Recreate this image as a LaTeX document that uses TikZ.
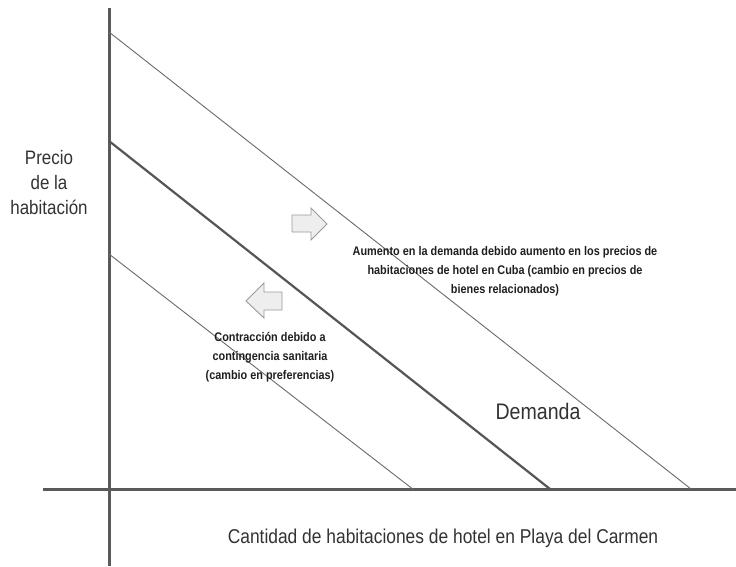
\documentclass[tikz,border=0pt]{standalone}
\usepackage{fontspec}
\newfontfamily\narrowsans[FakeStretch=0.87]{Liberation Sans}
\definecolor{axisgray}{HTML}{5A5A5A}
\definecolor{linegray}{HTML}{555555}
\definecolor{thingray}{HTML}{6A6A6A}
\definecolor{arrowedge}{HTML}{9A9A9A}
\definecolor{arrowfill}{HTML}{EEEEEE}
\definecolor{labeltext}{HTML}{333333}
\begin{document}
\begin{tikzpicture}[x=1pt,y=-1pt,
  axisline/.style={draw=axisgray, line width=3pt},
  demandthick/.style={draw=linegray, line width=2.2pt},
  demandthin/.style={draw=thingray, line width=0.9pt},
  shiftarrow/.style={draw=arrowedge, fill=arrowfill, line width=0.9pt, line join=miter},
  boldlabel/.style={font=\narrowsans\bfseries\fontsize{12.5}{19}\selectfont, text=black!88, align=center, inner sep=0pt},
  plainlabel/.style={font=\narrowsans\fontsize{#1}{25}\selectfont, text=labeltext, align=center, inner sep=0pt}
]
\useasboundingbox (0,0) rectangle (736,566);
\fill[white] (0,0) rectangle (736,566);

% axes
\coordinate (ytop) at (109,8);
\coordinate (ybot) at (109,566);
\coordinate (xleft) at (43,489);
\coordinate (xright) at (736,489);
\draw[axisline] (ytop) -- (ybot);
\draw[axisline] (xleft) -- (xright);

% demand curves
\coordinate (d1a) at (109,32);  \coordinate (d1b) at (691,489);
\coordinate (d0a) at (109,141); \coordinate (d0b) at (550,489);
\coordinate (d2a) at (109,254); \coordinate (d2b) at (414,490);
\draw[demandthin] (d1a) -- (d1b);
\draw[demandthick] (d0a) -- (d0b);
\draw[demandthin] (d2a) -- (d2b);

% shift arrows
\draw[shiftarrow] (292,215) -- (311,215) -- (311,208) -- (327,224) -- (311,240) -- (311,232) -- (292,232) -- cycle;
\draw[shiftarrow] (282,292) -- (264,292) -- (264,283) -- (246,301) -- (264,318) -- (264,310) -- (282,310) -- cycle;

% labels
\node[plainlabel=19.5] (ylabel) at (49,183) {Precio\\de la\\habitación};
\node[plainlabel=20] (xlabel) at (443,538) {Cantidad de habitaciones de hotel en Playa del Carmen};
\node[plainlabel=22.5] (dlabel) at (538,411) {Demanda};
\node[boldlabel] (uplabel) at (505,271) {Aumento en la demanda debido aumento en los precios de\\habitaciones de hotel en Cuba (cambio en precios de\\bienes relacionados)};
\node[boldlabel] (downlabel) at (270,357) {Contracción debido a\\contingencia sanitaria\\(cambio en preferencias)};
\end{tikzpicture}
\end{document}
